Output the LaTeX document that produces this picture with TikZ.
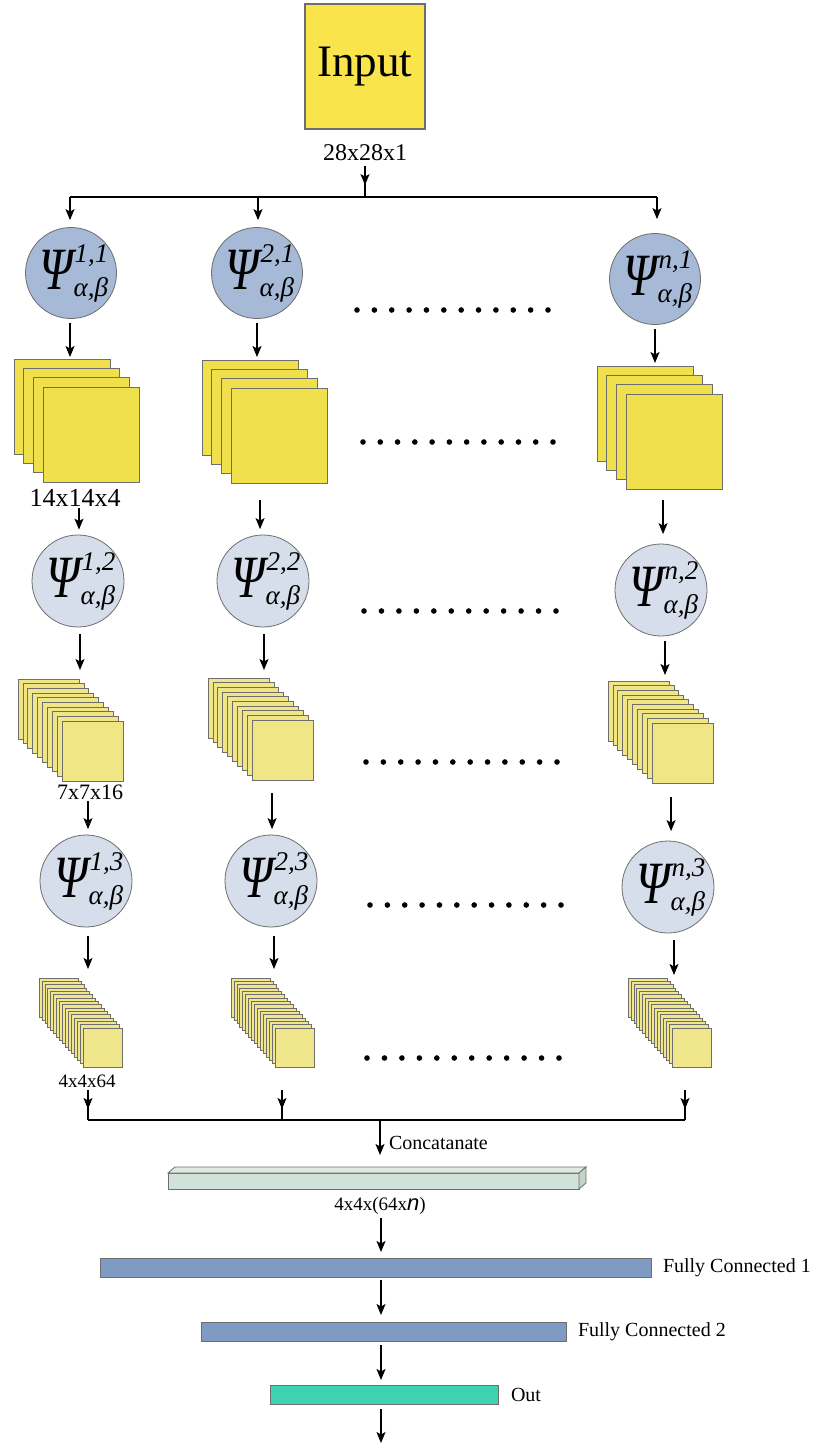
\documentclass[tikz,border=0pt]{standalone}
\usepackage{fontspec}
\usepackage{graphicx}
\setmainfont{Liberation Serif}
\newfontfamily\sansf{Liberation Sans}
\usetikzlibrary{arrows.meta,calc}
\definecolor{inputy}{HTML}{F9E44B}
\definecolor{sqA}{HTML}{F0E04C}
\definecolor{sqB}{HTML}{F1E686}
\definecolor{sqC}{HTML}{F0E68C}
\definecolor{circA}{HTML}{A6B9D6}
\definecolor{circB}{HTML}{D5DEEA}
\definecolor{edgeg}{HTML}{6E6E6E}
\definecolor{concf}{HTML}{D2E1D9}
\definecolor{conct}{HTML}{E0EAE4}
\definecolor{concr}{HTML}{C3D3CA}
\definecolor{fcb}{HTML}{7F9BC3}
\definecolor{outg}{HTML}{3DD3B0}
\newcommand{\psil}[1]{\scalebox{0.8}[1]{\fontsize{60}{60}\selectfont\itshape Ψ}\kern1pt\rlap{\raisebox{27pt}{\fontsize{27}{27}\selectfont\itshape #1}}\kern-1pt\raisebox{-7pt}{\fontsize{27}{27}\selectfont\itshape α,β}}
% name, x0, y0, w, h, n, dx, dy, colour
\newcommand{\stk}[9]{%
  \foreach \k in {1,...,#6}{\draw[layer,fill=#9] ({#2+(\k-1)*#7},{#3+(\k-1)*#8}) rectangle ++(#4,#5);}
  \node[inner sep=0pt,outer sep=0pt,minimum width={(#4+(#6-1)*#7)*1pt},minimum height={(#5+(#6-1)*#8)*1pt},anchor=north west] (#1) at (#2,#3) {};
}
% from, to, x offset, start gap, end gap
\newcommand{\dn}[5]{\draw[arr] ($(#1.south)+(#3,#4)$) -- ($(#1.south |- #2.north)+(#3,-#5)$);}
\begin{document}
\begin{tikzpicture}[x=1pt,y=-1pt,
  arr/.style={-{Stealth[length=11pt,width=9pt,inset=2.5pt]},line width=1.2pt},
  ln/.style={line width=1.2pt},
  layer/.style={draw=edgeg,line width=0.7pt},
  circA/.style={circle,draw=edgeg,line width=0.8pt,fill=circA,minimum size=91pt,inner sep=0pt},
  circB/.style={circle,draw=edgeg,line width=0.8pt,fill=circB,minimum size=92pt,inner sep=0pt},
  lbl/.style={inner sep=0pt,outer sep=0pt},
  bar/.style={draw=edgeg,line width=0.8pt,inner sep=0pt,outer sep=0pt}]
\useasboundingbox (0,0) rectangle (816,1446);
\fill[white] (0,0) rectangle (816,1446);

% input
\node[draw=edgeg,line width=1.2pt,fill=inputy,minimum width=120pt,minimum height=125pt,inner sep=0pt] (input) at (365,66.5) {\fontsize{45}{45}\selectfont Input};
\node[lbl] (t0) at (365,153) {\fontsize{24}{24}\selectfont 28x28x1};
\coordinate (sp) at (365,197);
\coordinate (bl) at (70,197);
\coordinate (b2) at (258,197);
\coordinate (br) at (657,197);
\draw[ln] ($(t0.south)+(0,5)$) -- (sp);
\draw[arr] ($(t0.south)+(0,5)$) -- ($(t0.south)+(0,24)$);
\draw[ln] (bl) -- (br);

% column 1
\node[circA] (c11) at (71,273) {};
\node[lbl] (c11t) at ([xshift=3pt]c11.center) {\psil{1,1}};
\stk{s11}{14}{359}{96}{95}{4}{9.7}{9.4}{sqA}
\node[lbl] (l11) at (75,498) {\fontsize{26}{26}\selectfont 14x14x4};
\node[circB] (c12) at (78,581) {};
\node[lbl] (c12t) at ([xshift=3pt]c12.center) {\psil{1,2}};
\stk{s12}{18}{679}{61}{60}{10}{4.9}{4.67}{sqB}
\node[lbl] (l12) at (90,792) {\fontsize{22}{22}\selectfont 7x7x16};
\node[circB] (c13) at (86,881) {};
\node[lbl] (c13t) at ([xshift=3pt]c13.center) {\psil{1,3}};
\stk{s13}{39}{978}{39}{39}{16}{2.93}{3.33}{sqC}
\node[lbl] (l13) at (87,1081) {\fontsize{19}{19}\selectfont 4x4x64};

% column 2
\node[circA] (c21) at (257,273) {};
\node[lbl] (c21t) at ([xshift=3pt]c21.center) {\psil{2,1}};
\stk{s21}{202}{360}{96}{95}{4}{9.7}{9.4}{sqA}
\node[circB] (c22) at (263,581) {};
\node[lbl] (c22t) at ([xshift=3pt]c22.center) {\psil{2,2}};
\stk{s22}{208}{678}{61}{60}{10}{4.9}{4.67}{sqB}
\node[circB] (c23) at (271,881) {};
\node[lbl] (c23t) at ([xshift=3pt]c23.center) {\psil{2,3}};
\stk{s23}{231}{978}{39}{39}{16}{2.93}{3.33}{sqC}

% column n
\node[circA] (cn1) at (655,279) {};
\node[lbl] (cn1t) at ([xshift=3pt]cn1.center) {\psil{n,1}};
\stk{sn1}{597}{366}{96}{95}{4}{9.7}{9.4}{sqA}
\node[circB] (cn2) at (661,590) {};
\node[lbl] (cn2t) at ([xshift=3pt]cn2.center) {\psil{n,2}};
\stk{sn2}{608}{681}{61}{60}{10}{4.9}{4.67}{sqB}
\node[circB] (cn3) at (668,887) {};
\node[lbl] (cn3t) at ([xshift=3pt]cn3.center) {\psil{n,3}};
\stk{sn3}{628}{978}{39}{39}{16}{2.93}{3.33}{sqC}

% dots
\foreach \y/\xa/\xb in {310/357/548, 442/363/553, 611/364/556, 762/366/557, 905/370/561, 1058/367/559}{
  \foreach \k in {0,...,11}{\fill ({\xa+\k*(\xb-\xa)/11},\y) circle (2.8pt);}
}

% top arrows
\draw[arr] (bl) -- ($(bl |- c11.north)+(0,-7)$);
\draw[arr] (b2) -- ($(b2 |- c21.north)+(0,-7)$);
\draw[arr] (br) -- ($(br |- cn1.north)+(0,-14)$);

% column arrows
\dn{c11}{s11}{-1}{4}{2}
\dn{l11}{c12}{4}{1}{5}
\dn{c12}{s12}{2}{7}{9}
\dn{l12}{c13}{-2}{2}{5.5}
\dn{c13}{s13}{2}{8.5}{9}

\dn{c21}{s21}{0}{4}{3}
\dn{s21}{c22}{-4.5}{17}{5.5}
\dn{c22}{s22}{1}{7}{8}
\dn{s22}{c23}{11.5}{13}{5.5}
\dn{c23}{s23}{3}{8.5}{9}

\dn{cn1}{sn1}{0}{4}{3}
\dn{sn1}{cn2}{3.5}{11}{9.5}
\dn{cn2}{sn2}{4}{4.5}{6}
\dn{sn2}{cn3}{10.5}{14}{9.5}
\dn{cn3}{sn3}{6}{6.5}{3}

% merge
\coordinate (m1) at (88,1120);
\coordinate (m2) at (282,1120);
\coordinate (mn) at (685,1120);
\coordinate (mc) at (380,1120);
\draw[ln] ($(m1 |- l13.south)+(0,3)$) -- (m1);
\draw[arr] ($(m1 |- l13.south)+(0,3)$) -- ($(m1)+(0,-11)$);
\draw[ln] ($(m2 |- s23.south)+(0,23)$) -- (m2);
\draw[arr] ($(m2 |- s23.south)+(0,23)$) -- ($(m2)+(0,-11)$);
\draw[ln] ($(mn |- sn3.south)+(0,23)$) -- (mn);
\draw[arr] ($(mn |- sn3.south)+(0,23)$) -- ($(mn)+(0,-11)$);
\draw[ln] (m1) -- (mn);

% concatenate bar
\node[bar,fill=concf,minimum width=411pt,minimum height=16pt] (cbar) at (373.5,1181) {};
\draw[draw=edgeg,line width=0.8pt,fill=conct] (cbar.north west) -- ++(7,-6) -- ($(cbar.north east)+(7,-6)$) -- (cbar.north east) -- cycle;
\draw[draw=edgeg,line width=0.8pt,fill=concr] (cbar.north east) -- ++(7,-6) -- ($(cbar.south east)+(7,-6)$) -- (cbar.south east) -- cycle;
\draw[arr] (mc) -- ($(mc |- cbar.north)+(0,-18)$);
\node[lbl,anchor=west] (ctext) at (389,1143) {\fontsize{20}{20}\selectfont Concatanate};
\node[lbl] (cl) at (380,1206) {\fontsize{19}{19}\selectfont 4x4x(64x{\sansf\itshape\fontsize{22}{22}\selectfont n})};

% fully connected
\node[bar,fill=fcb,minimum width=551pt,minimum height=19pt] (fc1) at (375.5,1267.5) {};
\node[lbl,anchor=west] (fc1l) at (663,1268) {\fontsize{20}{20}\selectfont Fully Connected 1};
\node[bar,fill=fcb,minimum width=365pt,minimum height=19pt] (fc2) at (383.5,1331.5) {};
\node[lbl,anchor=west] (fc2l) at (578,1332) {\fontsize{20}{20}\selectfont Fully Connected 2};
\node[bar,fill=outg,minimum width=228pt,minimum height=19pt] (out) at (384,1394.5) {};
\node[lbl,anchor=west] (outl) at (511,1395) {\fontsize{20}{20}\selectfont Out};
\coordinate (endc) at (381,1443);

\draw[arr] ($(cl.south)+(1,3)$) -- ($(cl.south |- fc1.north)+(1,-6)$);
\dn{fc1}{fc2}{5.5}{3}{7}
\dn{fc2}{out}{-2.5}{4}{5}
\draw[arr] ($(out.south)+(-3,5)$) -- (endc);
\end{tikzpicture}
\end{document}
